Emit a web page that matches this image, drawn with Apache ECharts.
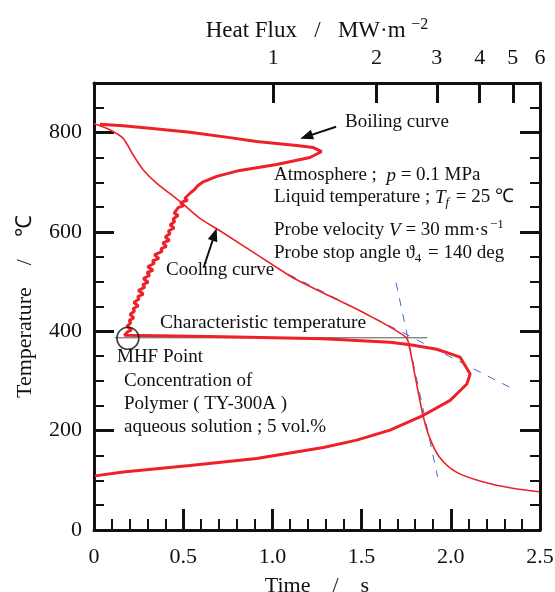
<!DOCTYPE html>
<html>
<head>
<meta charset="utf-8">
<script src="https://cdn.jsdelivr.net/npm/echarts@6/dist/echarts.min.js"></script>
<style>
  html, body { margin: 0; padding: 0; background: #fff; }
  #main { width: 555px; height: 592px; }
</style>
</head>
<body>
<div id="main"></div>
<script>
// 冷却曲线 (time / s, temperature / °C)
var coolTime = [0.0, 0.088, 0.162, 0.218, 0.274, 0.349, 0.480, 0.592, 0.704, 1.096, 1.152, 1.338, 1.525, 1.749, 1.768, 1.805, 1.842, 1.880, 1.936, 2.029, 2.178, 2.346, 2.496];
var coolTemp = [818, 806, 789, 756, 726, 699, 662, 628, 603, 512, 501, 468, 435, 388, 368, 301, 234, 187, 147, 117, 97, 84, 77];

// 沸腾曲线 (heat flux / MW·m-2, temperature / °C)
var boilFlux = [0.312, 0.365, 0.436, 0.571, 0.747, 0.894, 1.170, 1.309, 1.384, 1.280, 1.023, 0.799, 0.684, 0.625,
  0.602, 0.590, 0.574, 0.580, 0.552, 0.562, 0.536, 0.548, 0.528, 0.534, 0.514, 0.528, 0.510, 0.516, 0.500, 0.514,
  0.494, 0.500, 0.484, 0.498, 0.476, 0.488, 0.470, 0.474, 0.450, 0.464, 0.444, 0.450, 0.430, 0.446, 0.428, 0.436,
  0.418, 0.432, 0.416, 0.422, 0.404, 0.418, 0.402, 0.406, 0.392, 0.404, 0.390, 0.394, 0.382, 0.392, 0.380, 0.384,
  0.374, 0.386, 0.376, 0.380, 0.368,
  0.714, 1.400, 2.191, 2.507, 3.000, 3.509, 3.753, 3.671, 3.281, 2.742, 2.191, 1.752, 1.400, 0.894, 0.571, 0.365, 0.302];
var boilTemp = [817, 814, 809, 801, 790, 782, 774, 770, 762, 750, 736, 724, 712, 701,
  693, 686, 679, 675, 668, 664, 659, 653, 649, 645, 638, 633, 626, 621, 614, 608,
  602, 597, 590, 583, 578, 571, 566, 561, 554, 547, 542, 537, 530, 523, 518, 513,
  506, 499, 494, 489, 482, 475, 470, 465, 458, 451, 446, 441, 434, 427, 422, 417,
  410, 403, 399, 395, 392,
  389, 385, 378, 373, 364, 348, 314, 294, 261, 231, 201, 181, 166, 144, 130, 117, 109];

// 切线 (tangent lines) and characteristic temperature
var tangentATime = [1.09, 2.365];
var tangentATemp = [515, 281];
var tangentBTime = [1.693, 1.926];
var tangentBTemp = [498, 107];
var charLineTime = [0.117, 1.868];
var charTemp = 387;
var mhfPoint = [0.19, 386];

// axis ticks
var fluxTicks = [1, 2, 3, 4, 5, 6];

function zip(a, b) {
  var out = [];
  for (var i = 0; i < a.length; i++) out.push([a[i], b[i]]);
  return out;
}

var FONT = 'Liberation Serif';
var chart = echarts.init(document.getElementById('main'));

var rightAxisCommon = {
  min: 0, max: 900, interval: 200,
  axisLine: { show: true, lineStyle: { color: '#111', width: 3 } },
  axisTick: { show: true, inside: true, length: 20, lineStyle: { color: '#111', width: 3 } },
  minorTick: { show: true, splitNumber: 4, length: 10, lineStyle: { color: '#111', width: 2 } },
  splitLine: { show: false }
};

var option = {
  backgroundColor: '#fff',
  animation: false,
  textStyle: { fontFamily: FONT },
  grid: { left: 94, right: 15, top: 83, bottom: 62, containLabel: false, outerBoundsMode: 'none' },
  xAxis: [
    {
      type: 'value',
      position: 'bottom',
      min: 0, max: 2.5, interval: 0.5,
      name: 'Time    /    s',
      nameLocation: 'middle',
      nameGap: 45,
      nameTextStyle: { fontSize: 22, color: '#111', fontFamily: FONT },
      axisLine: { show: true, onZero: false, lineStyle: { color: '#111', width: 3 } },
      axisTick: { show: true, inside: true, length: 21, lineStyle: { color: '#111', width: 3 } },
      minorTick: { show: true, splitNumber: 5, length: 11, lineStyle: { color: '#111', width: 2 } },
      axisLabel: {
        fontSize: 22, color: '#111', fontFamily: FONT, margin: 16,
        formatter: function (v) { return v === 0 ? '0' : v.toFixed(1); }
      },
      splitLine: { show: false }
    },
    {
      type: 'log',
      position: 'top',
      logBase: 10,
      min: 0.3, max: 6,
      name: 'Heat Flux   /   MW·m {sup|−2}',
      nameLocation: 'middle',
      nameGap: 36,
      nameTextStyle: {
        fontSize: 23, color: '#111', fontFamily: FONT,
        rich: { sup: { fontSize: 16, fontFamily: FONT, color: '#111', padding: [0, 0, 12, 0] } }
      },
      axisLine: { show: true, onZero: false, lineStyle: { color: '#111', width: 3 } },
      axisTick: { show: true, inside: true, length: 20, customValues: fluxTicks, lineStyle: { color: '#111', width: 3 } },
      axisLabel: {
        fontSize: 22, color: '#111', fontFamily: FONT, margin: 14,
        customValues: fluxTicks,
        formatter: function (v) { return String(Math.round(v)); }
      },
      minorTick: { show: false },
      splitLine: { show: false }
    }
  ],
  yAxis: [
    Object.assign({}, rightAxisCommon, {
      type: 'value',
      position: 'left',
      name: 'Temperature    /    ℃',
      nameLocation: 'middle',
      nameGap: 58,
      nameTextStyle: { fontSize: 22, color: '#111', fontFamily: FONT },
      axisLabel: { fontSize: 22, color: '#111', fontFamily: FONT, margin: 12, showMaxLabel: false }
    }),
    Object.assign({}, rightAxisCommon, {
      type: 'value',
      position: 'right',
      axisLabel: { show: false }
    })
  ],
  series: [
    {
      name: 'Cooling curve',
      type: 'line',
      xAxisIndex: 0, yAxisIndex: 0,
      data: zip(coolTime, coolTemp),
      showSymbol: false,
      smooth: 0.3,
      lineStyle: { color: '#ee2128', width: 1.6 },
      z: 3,
      markLine: {
        silent: true,
        symbol: ['none', 'triangle'],
        symbolSize: [10, 13],
        label: { show: false },
        lineStyle: { color: '#111', width: 2, type: 'solid' },
        data: [
          [{ coord: [1.357, 812] }, { coord: [1.190, 792] }],
          [{ coord: [0.614, 528] }, { coord: [0.676, 595] }]
        ]
      }
    },
    {
      name: 'Boiling curve',
      type: 'line',
      xAxisIndex: 1, yAxisIndex: 0,
      data: zip(boilFlux, boilTemp),
      showSymbol: false,
      lineStyle: { color: '#ee2128', width: 3 },
      z: 4
    },
    {
      name: 'tangent A',
      type: 'line',
      xAxisIndex: 0, yAxisIndex: 0,
      data: zip(tangentATime, tangentATemp),
      showSymbol: false,
      lineStyle: { color: '#3a6cc6', width: 1, type: [8, 8] },
      z: 2
    },
    {
      name: 'tangent B',
      type: 'line',
      xAxisIndex: 0, yAxisIndex: 0,
      data: zip(tangentBTime, tangentBTemp),
      showSymbol: false,
      lineStyle: { color: '#3a6cc6', width: 1, type: [8, 8] },
      z: 2
    },
    {
      name: 'Characteristic temperature',
      type: 'line',
      xAxisIndex: 0, yAxisIndex: 0,
      data: [[charLineTime[0], charTemp], [charLineTime[1], charTemp]],
      showSymbol: false,
      lineStyle: { color: '#555', width: 1 },
      z: 2
    },
    {
      name: 'MHF Point',
      type: 'scatter',
      xAxisIndex: 0, yAxisIndex: 0,
      data: [mhfPoint],
      symbol: 'circle',
      symbolSize: 22,
      itemStyle: { color: 'rgba(0,0,0,0)', borderColor: '#111', borderWidth: 1.6 },
      z: 5
    }
  ],
  graphic: [
    { type: 'text', left: 345, top: 113, style: { text: 'Boiling curve', font: '19px "Liberation Serif"', fill: '#111' } },
    { type: 'text', left: 166, top: 261, style: { text: 'Cooling curve', font: '19px "Liberation Serif"', fill: '#111' } },
    { type: 'text', left: 160, top: 313, style: { text: 'Characteristic temperature', font: '19.5px "Liberation Serif"', fill: '#111' } },
    { type: 'text', left: 117, top: 348, style: { text: 'MHF Point', font: '19px "Liberation Serif"', fill: '#111' } },
    {
      type: 'text', left: 124, top: 370,
      style: {
        text: 'Concentration of\nPolymer ( TY-300A )\naqueous solution ; 5 vol.%',
        font: '19px "Liberation Serif"', fill: '#111', lineHeight: 23
      }
    },
    {
      type: 'text', left: 274, top: 166,
      style: {
        text: 'Atmosphere ;  {i|p} = 0.1 MPa',
        font: '19px "Liberation Serif"', fill: '#111',
        rich: { i: { fontStyle: 'italic', fontSize: 19, fontFamily: FONT } }
      }
    },
    {
      type: 'text', left: 274, top: 188,
      style: {
        text: 'Liquid temperature ; {i|T}{sub|f} = 25 ℃',
        font: '19px "Liberation Serif"', fill: '#111',
        rich: {
          i: { fontStyle: 'italic', fontSize: 19, fontFamily: FONT },
          sub: { fontStyle: 'italic', fontSize: 13, fontFamily: FONT, padding: [10, 2, 0, 0] }
        }
      }
    },
    {
      type: 'text', left: 274, top: 218,
      style: {
        text: 'Probe velocity {i|V} = 30 mm·s{sup|−1}',
        font: '19px "Liberation Serif"', fill: '#111',
        rich: {
          i: { fontStyle: 'italic', fontSize: 19, fontFamily: FONT },
          sup: { fontSize: 13, fontFamily: FONT, padding: [0, 0, 12, 2] }
        }
      }
    },
    {
      type: 'text', left: 274, top: 244,
      style: {
        text: 'Probe stop angle ϑ{sub|4} = 140 deg',
        font: '19px "Liberation Serif"', fill: '#111',
        rich: {
          sub: { fontSize: 13, fontFamily: FONT, padding: [10, 2, 0, 0] }
        }
      }
    }
  ]
};

chart.setOption(option);
</script>
</body>
</html>
